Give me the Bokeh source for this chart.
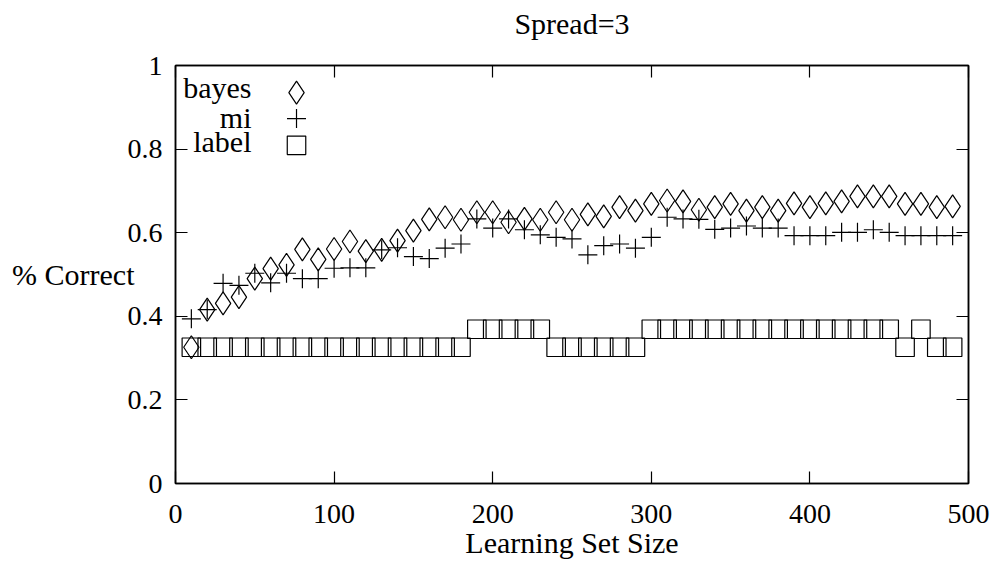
from bokeh.plotting import figure
from bokeh.models import Range1d, FixedTicker, LinearAxis
from bokeh.embed import file_html
from bokeh.resources import INLINE
from bokeh.core.properties import value

# ---------------- data ----------------
set_size = [10, 20, 30, 40, 50, 60, 70, 80, 90, 100,
            110, 120, 130, 140, 150, 160, 170, 180, 190, 200,
            210, 220, 230, 240, 250, 260, 270, 280, 290, 300,
            310, 320, 330, 340, 350, 360, 370, 380, 390, 400,
            410, 420, 430, 440, 450, 460, 470, 480, 490]

bayes = [0.326, 0.416, 0.431, 0.446, 0.490, 0.514, 0.523, 0.560, 0.536, 0.561,
         0.579, 0.556, 0.559, 0.581, 0.605, 0.632, 0.637, 0.631, 0.649, 0.649,
         0.625, 0.633, 0.631, 0.649, 0.631, 0.644, 0.639, 0.661, 0.653, 0.669,
         0.677, 0.675, 0.655, 0.661, 0.669, 0.653, 0.661, 0.653, 0.670, 0.661,
         0.670, 0.675, 0.687, 0.687, 0.687, 0.669, 0.669, 0.661, 0.663]

mi = [0.394, 0.416, 0.479, 0.474, 0.503, 0.480, 0.503, 0.490, 0.490, 0.515,
      0.516, 0.516, 0.559, 0.564, 0.543, 0.538, 0.563, 0.573, 0.633, 0.611,
      0.633, 0.607, 0.595, 0.589, 0.585, 0.547, 0.569, 0.573, 0.563, 0.589,
      0.637, 0.633, 0.632, 0.608, 0.611, 0.616, 0.611, 0.611, 0.593, 0.593,
      0.593, 0.601, 0.601, 0.607, 0.601, 0.593, 0.593, 0.593, 0.593]

label = [0.326, 0.326, 0.326, 0.326, 0.326, 0.326, 0.326, 0.326, 0.326, 0.326,
         0.326, 0.326, 0.326, 0.326, 0.326, 0.326, 0.326, 0.326, 0.369, 0.369,
         0.369, 0.369, 0.369, 0.326, 0.326, 0.326, 0.326, 0.326, 0.326, 0.369,
         0.369, 0.369, 0.369, 0.369, 0.369, 0.369, 0.369, 0.369, 0.369, 0.369,
         0.369, 0.369, 0.369, 0.369, 0.369, 0.326, 0.369, 0.326, 0.326]

series_names = ["bayes", "mi", "label"]
x_ticks = [0, 100, 200, 300, 400, 500]
y_ticks = [0, 0.2, 0.4, 0.6, 0.8, 1]
y_tick_labels = ["0", "0.2", "0.4", "0.6", "0.8", "1"]

title_text = "Spread=3"
x_title = "Learning Set Size"
y_title = "% Correct"

# ---------------- style ----------------
FONT = "Liberation Serif"
FS_TEXT = "30px"
FS_TICK = "28px"
LW = 1.2

p = figure(width=990, height=565,
           x_range=Range1d(0, 500), y_range=Range1d(0, 1),
           output_backend="svg", toolbar_location=None,
           min_border_left=175, min_border_right=22,
           min_border_top=65, min_border_bottom=82)

p.grid.visible = False
p.outline_line_color = "black"
p.outline_line_width = 1.5
p.background_fill_color = "white"
p.border_fill_color = "white"


def style_axis(ax, ticks, show_labels=True):
    ax.ticker = FixedTicker(ticks=ticks)
    ax.major_tick_in = 12
    ax.major_tick_out = 0
    ax.minor_tick_in = 0
    ax.minor_tick_out = 0
    ax.axis_line_color = "black"
    ax.axis_line_width = 1.5
    ax.major_tick_line_color = "black"
    ax.major_tick_line_width = 1.2
    ax.major_label_text_font = FONT
    if show_labels:
        ax.major_label_text_font_size = FS_TICK
        ax.major_label_text_color = "black"
    else:
        ax.major_label_text_font_size = "1px"
        ax.major_label_text_color = None
        ax.major_label_standoff = 0
    ax.axis_label_text_font = FONT
    ax.axis_label_text_font_size = FS_TEXT
    ax.axis_label_text_font_style = "normal"
    ax.axis_label_text_color = "black"


xa = p.xaxis[0]
style_axis(xa, x_ticks)
xa.major_label_standoff = 21
xa.axis_label = x_title
xa.axis_label_standoff = 0

ya = p.yaxis[0]
style_axis(ya, y_ticks)
ya.major_label_overrides = {t: s for t, s in zip(y_ticks, y_tick_labels)}
ya.major_label_standoff = 13
ya.axis_label = y_title
ya.axis_label_orientation = "horizontal"
ya.axis_label_standoff = -10

ra = LinearAxis()
style_axis(ra, y_ticks, show_labels=False)
p.add_layout(ra, "right")

# top frame edge with inward ticks; its label carries the chart title
ta = LinearAxis()
style_axis(ta, x_ticks, show_labels=False)
ta.axis_label = title_text
ta.axis_label_standoff = 26
p.add_layout(ta, "above")

# ---------------- marks ----------------
p.scatter(set_size, label, marker="square", size=18.5,
          fill_color=None, line_color="black", line_width=LW)
p.scatter(set_size, mi, marker="cross", size=19,
          line_color="black", line_width=LW)
p.scatter(set_size, bayes, marker="diamond", size=23,
          fill_color=None, line_color="black", line_width=LW)

# ---------------- key (text then symbol) ----------------
key_text_x = [47.9, 47.9, 47.9]
key_text_y = [0.947, 0.876, 0.818]
key_sym_x = [76.3, 76.3, 76.3]
key_sym_y = [0.935, 0.873, 0.809]
key_markers = ["diamond", "cross", "square"]
key_sizes = [23, 19, 18.5]

p.text(key_text_x, key_text_y, text=series_names,
       text_font=value(FONT), text_font_size=FS_TEXT,
       text_align="right", text_baseline="middle", text_color="black")
for xs, ys, m, s in zip(key_sym_x, key_sym_y, key_markers, key_sizes):
    p.scatter([xs], [ys], marker=m, size=s, fill_color=None,
              line_color="black", line_width=LW)

open("out.html", "w").write(file_html(p, INLINE))
